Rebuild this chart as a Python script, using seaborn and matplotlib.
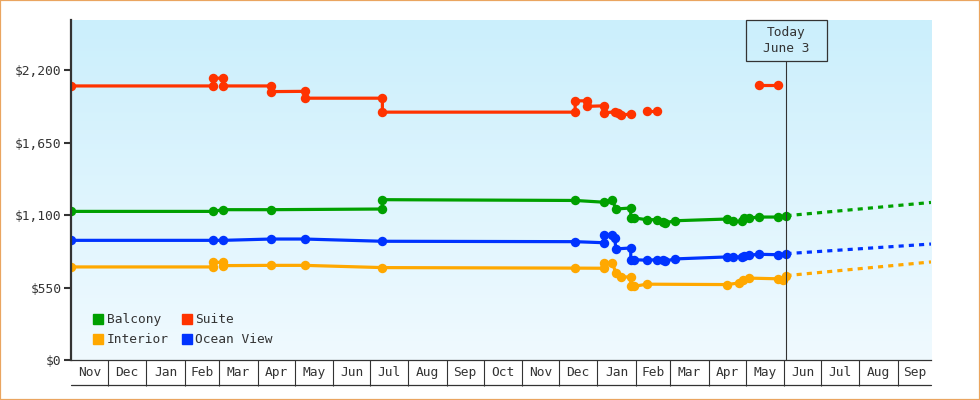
import numpy as np
import pandas as pd
import matplotlib
matplotlib.use("Agg")
import matplotlib.pyplot as plt
import matplotlib.dates as mdates
from matplotlib.ticker import FixedLocator, FixedFormatter, NullFormatter
from matplotlib.colors import LinearSegmentedColormap
from matplotlib.patches import Rectangle
from matplotlib.lines import Line2D
import seaborn as sns

# ---------------- data ----------------
series_order = ["Balcony", "Interior", "Suite", "Ocean View"]   # legend order (column-wise)
colors = {"Balcony": "#00a000", "Suite": "#ff3300",
          "Interior": "#ffa800", "Ocean View": "#0033ff"}

balcony_dates = ["2021-11-01", "2022-02-24", "2022-03-04", "2022-04-12", "2022-07-11", "2022-07-11",
                 "2022-12-14", "2023-01-06", "2023-01-13", "2023-01-16", "2023-01-28", "2023-01-28",
                 "2023-01-31", "2023-02-10", "2023-02-18", "2023-02-23", "2023-02-25", "2023-03-05",
                 "2023-04-16", "2023-04-21", "2023-04-28", "2023-04-30", "2023-05-04", "2023-05-12",
                 "2023-05-27", "2023-06-03"]
balcony_prices = [1129, 1129, 1142, 1142, 1147, 1218,
                  1212, 1199, 1218, 1147, 1155, 1079,
                  1079, 1066, 1066, 1047, 1042, 1058,
                  1071, 1053, 1053, 1075, 1079, 1086,
                  1086, 1096]

interior_dates = ["2021-11-01", "2022-02-24", "2022-02-24", "2022-03-04", "2022-03-04", "2022-04-12",
                  "2022-05-09", "2022-07-11", "2022-12-14", "2023-01-06", "2023-01-06", "2023-01-13",
                  "2023-01-16", "2023-01-20", "2023-01-28", "2023-01-28", "2023-01-31", "2023-02-10",
                  "2023-04-16", "2023-04-26", "2023-04-29", "2023-05-04", "2023-05-27", "2023-05-31",
                  "2023-06-03"]
interior_prices = [707, 707, 742, 742, 717, 719,
                   719, 702, 698, 697, 735, 737,
                   663, 631, 631, 560, 560, 576,
                   573, 586, 605, 622, 617, 611,
                   641]

ocean_dates = ["2021-11-01", "2022-02-24", "2022-03-04", "2022-04-12", "2022-05-09", "2022-07-11",
               "2022-12-14", "2023-01-06", "2023-01-06", "2023-01-13", "2023-01-15", "2023-01-16",
               "2023-01-28", "2023-01-28", "2023-01-31", "2023-02-10", "2023-02-18", "2023-02-23",
               "2023-02-25", "2023-03-05", "2023-04-16", "2023-04-21", "2023-04-28", "2023-04-30",
               "2023-05-04", "2023-05-12", "2023-05-27", "2023-06-03"]
ocean_prices = [909, 909, 909, 919, 919, 902,
                899, 891, 947, 952, 927, 844,
                851, 762, 762, 758, 762, 762,
                752, 768, 783, 783, 783, 793,
                797, 803, 800, 808]

suite_dates = ["2021-11-01", "2022-02-24", "2022-02-24", "2022-03-04", "2022-03-04", "2022-04-12",
               "2022-04-12", "2022-05-09", "2022-05-09", "2022-07-11", "2022-07-11", "2022-12-14",
               "2022-12-14", "2022-12-24", "2022-12-24", "2023-01-06", "2023-01-06", "2023-01-15",
               "2023-01-18", "2023-01-20", "2023-01-28",
               "2023-02-10", "2023-02-18",
               "2023-05-12", "2023-05-27"]
suite_prices = [2082, 2082, 2141, 2141, 2082, 2082,
                2039, 2041, 1989, 1989, 1883, 1883,
                1969, 1969, 1927, 1931, 1875, 1887,
                1875, 1862, 1868,
                1895, 1895,
                2088, 2088]
suite_segments = [0] * 21 + [1] * 2 + [2] * 2

forecast_dates = ["2023-06-03", "2023-09-28"]
forecast_balcony = [1096, 1197]
forecast_interior = [641, 745]
forecast_ocean = [808, 881]

today = "2023-06-03"
today_label = "Today\nJune 3"
x_start, x_end = "2021-11-01", "2023-09-28"
y_ticks = [0, 550, 1100, 1650, 2200]
y_max = 2583

# ---------------- tables ----------------
frames = []
for name, d, p, s in [("Balcony", balcony_dates, balcony_prices, None),
                      ("Interior", interior_dates, interior_prices, None),
                      ("Ocean View", ocean_dates, ocean_prices, None),
                      ("Suite", suite_dates, suite_prices, suite_segments)]:
    frames.append(pd.DataFrame({"date": pd.to_datetime(d), "price": p, "series": name,
                                "seg": s if s is not None else [0] * len(d)}))
hist = pd.concat(frames, ignore_index=True)
hist["unit"] = hist["series"] + "_" + hist["seg"].astype(str)

fc = pd.concat([
    pd.DataFrame({"date": pd.to_datetime(forecast_dates), "price": v, "series": n})
    for n, v in [("Balcony", forecast_balcony), ("Interior", forecast_interior),
                 ("Ocean View", forecast_ocean)]], ignore_index=True)

# ---------------- style ----------------
sns.set_theme(style="white")
plt.rcParams["font.family"] = ["DejaVu Sans Mono", "DejaVu Sans"]
txt = "#333333"
fs = 9.3

W, H = 980, 400
fig = plt.figure(figsize=(W / 100, H / 100), dpi=100)
fig.patch.set_facecolor("white")
L, R, T, B = 71, 931, 20, 360
pos = [L / W, 1 - B / H, (R - L) / W, (B - T) / H]

bg = fig.add_axes(pos, zorder=0)
grad = np.linspace(0, 1, 256)[:, None]
cmap = LinearSegmentedColormap.from_list("bg", ["#cbeffc", "#f0faff"])
bg.imshow(grad, aspect="auto", cmap=cmap, extent=[0, 1, 0, 1], interpolation="bilinear")
bg.axis("off")

ax = fig.add_axes(pos, zorder=1)
ax.patch.set_alpha(0)

sns.lineplot(data=hist, x="date", y="price", hue="series", units="unit", estimator=None,
             sort=False, palette=colors, marker="o", markersize=6.8, markeredgewidth=0,
             linewidth=2.3, legend=False, ax=ax)
sns.lineplot(data=fc, x="date", y="price", hue="series", estimator=None, sort=False,
             palette=colors, linewidth=2.3, linestyle=(0, (1.6, 1.6)), legend=False, ax=ax)

x0, x1 = pd.Timestamp(x_start), pd.Timestamp(x_end)
ax.set_xlim(x0, x1)
ax.set_ylim(0, y_max)
ax.set_xlabel("")
ax.set_ylabel("")

# y axis
ax.set_yticks(y_ticks)
ax.set_yticklabels([f"${v:,}" for v in y_ticks], fontsize=fs, color=txt)
ax.tick_params(axis="y", left=True, direction="out", length=5, width=1.5, color=txt, pad=2)

# x axis: month boxes
month_starts = pd.date_range(x0, x1, freq="MS")
bounds = list(month_starts) + [x1]
centers = [bounds[i] + (bounds[i + 1] - bounds[i]) / 2 for i in range(len(bounds) - 1)]
labels = [m.strftime("%b") for m in month_starts]
ax.xaxis.set_major_locator(FixedLocator(mdates.date2num(list(month_starts[1:]))))
ax.xaxis.set_major_formatter(NullFormatter())
ax.xaxis.set_minor_locator(FixedLocator(mdates.date2num(centers)))
ax.xaxis.set_minor_formatter(FixedFormatter(labels))
ax.tick_params(axis="x", which="major", bottom=True, direction="out", length=18.5,
               width=0.8, color=txt)
ax.tick_params(axis="x", which="minor", bottom=True, length=0, pad=4, labelsize=fs,
               labelcolor=txt)
ax.plot([0, 1], [-25 / (B - T)] * 2, transform=ax.transAxes, clip_on=False,
        color=txt, lw=0.9)

for s in ["top", "right"]:
    ax.spines[s].set_visible(False)
ax.spines["left"].set_color(txt)
ax.spines["left"].set_linewidth(1.6)
ax.spines["bottom"].set_color(txt)
ax.spines["bottom"].set_linewidth(0.9)

# today marker
tnum = mdates.date2num(pd.Timestamp(today))
box_top_px, box_bot_px = T, 61
ax.axvline(pd.Timestamp(today), ymin=0, ymax=(B - box_bot_px) / (B - T), color=txt, lw=0.8)
xfrac = (tnum - mdates.date2num(x0)) / (mdates.date2num(x1) - mdates.date2num(x0))
fx = pos[0] + xfrac * pos[2]
bw = 81 / W
fig.patches.append(Rectangle((fx - bw / 2, 1 - box_bot_px / H), bw, (box_bot_px - box_top_px) / H,
                             transform=fig.transFigure, facecolor="none", edgecolor=txt,
                             lw=0.9, zorder=5))
fig.text(fx, 1 - (box_top_px + box_bot_px) / 2 / H, today_label, ha="center", va="center",
         fontsize=fs, color=txt, linespacing=1.35, zorder=6)

# legend
handles = [Line2D([], [], marker="s", linestyle="none", color=colors[n], markersize=7.5)
           for n in series_order]
leg = ax.legend(handles, series_order, ncol=2, loc="lower left",
                bbox_to_anchor=(21 / (R - L), 0.04), frameon=False, fontsize=fs,
                handlelength=1.0, handletextpad=0.15, columnspacing=0.9,
                labelspacing=0.55, borderpad=0, borderaxespad=0)
for t in leg.get_texts():
    t.set_color(txt)

# outer border
fig.patches.append(Rectangle((0, 0), 1, 1, transform=fig.transFigure, facecolor="none",
                             edgecolor="#eaa560", lw=1.6, zorder=10))

fig.savefig("out.png", dpi=100)
